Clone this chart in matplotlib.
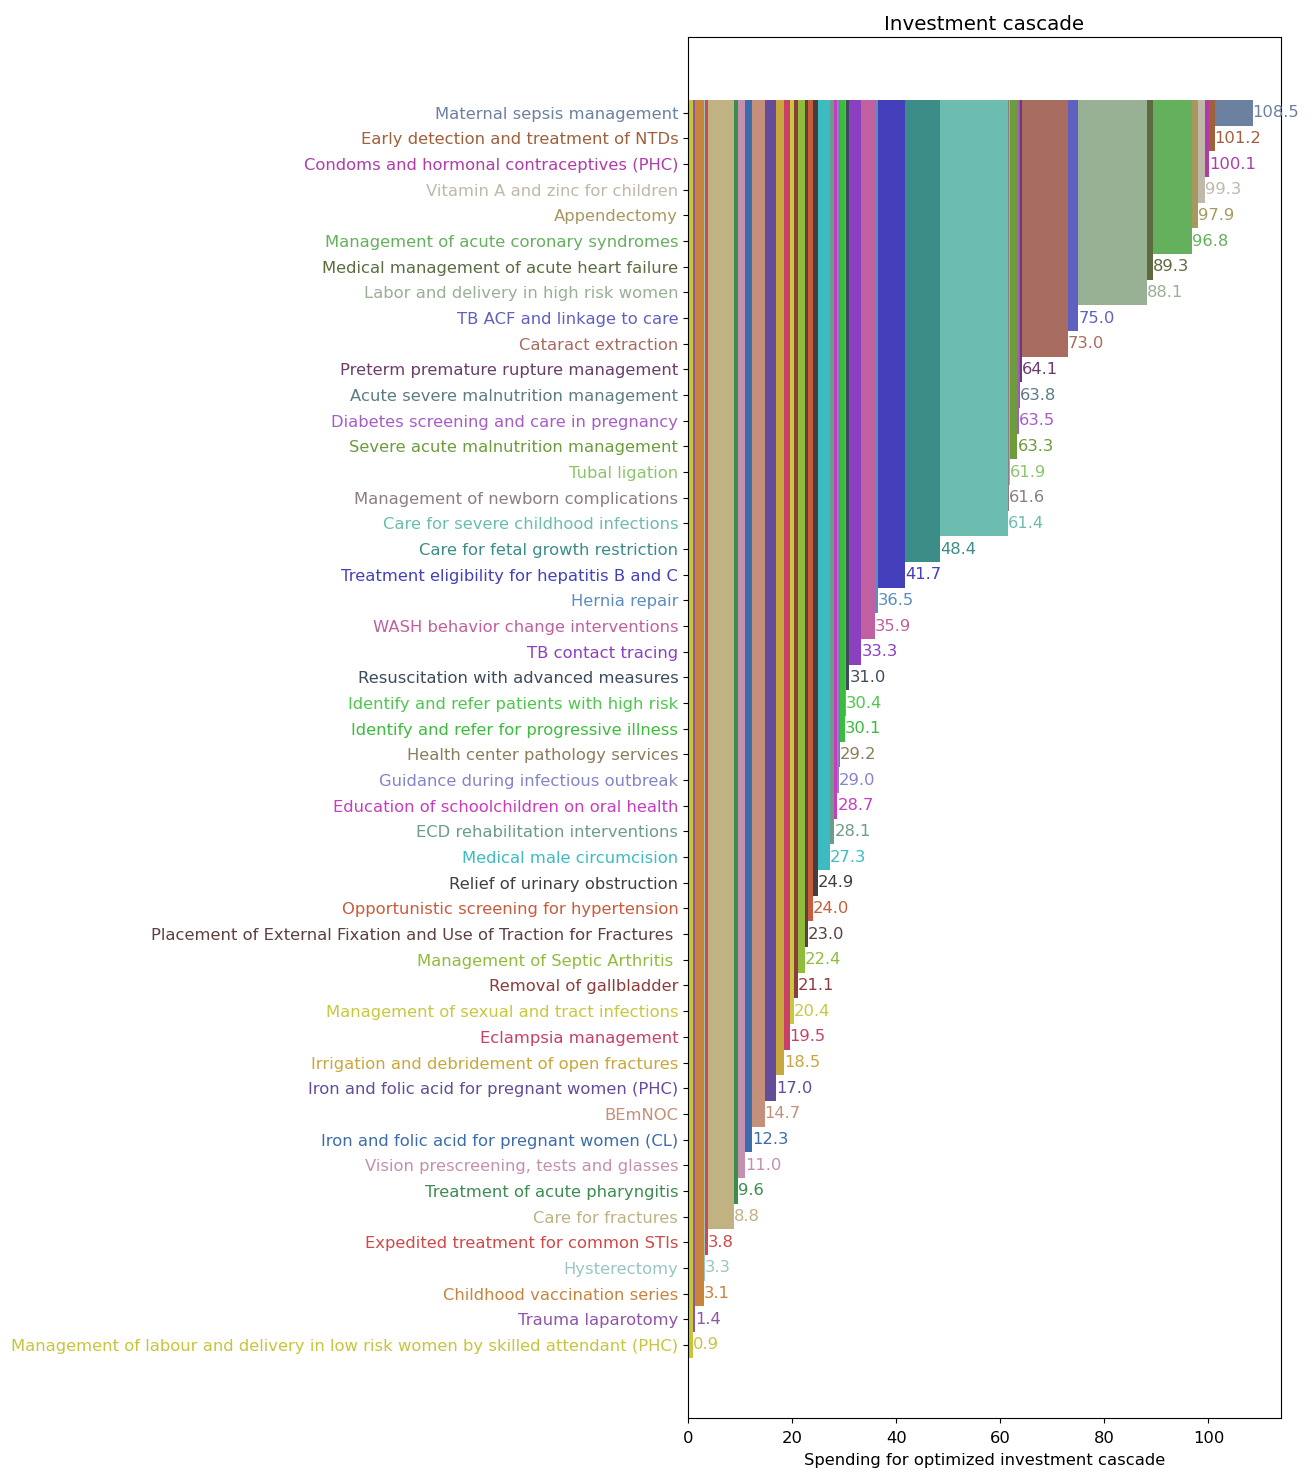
import numpy as np
import matplotlib
matplotlib.use('Agg')
import matplotlib.pyplot as plt

# interventions, bottom of the cascade first
names = [
    'Management of labour and delivery in low risk women by skilled attendant (PHC)',
    'Trauma laparotomy',
    'Childhood vaccination series',
    'Hysterectomy',
    'Expedited treatment for common STIs',
    'Care for fractures',
    'Treatment of acute pharyngitis',
    'Vision prescreening, tests and glasses',
    'Iron and folic acid for pregnant women (CL)',
    'BEmNOC',
    'Iron and folic acid for pregnant women (PHC)',
    'Irrigation and debridement of open fractures',
    'Eclampsia management',
    'Management of sexual and tract infections',
    'Removal of gallbladder',
    'Management of Septic Arthritis ',
    'Placement of External Fixation and Use of Traction for Fractures ',
    'Opportunistic screening for hypertension',
    'Relief of urinary obstruction',
    'Medical male circumcision',
    'ECD rehabilitation interventions',
    'Education of schoolchildren on oral health',
    'Guidance during infectious outbreak',
    'Health center pathology services',
    'Identify and refer for progressive illness',
    'Identify and refer patients with high risk',
    'Resuscitation with advanced measures',
    'TB contact tracing',
    'WASH behavior change interventions',
    'Hernia repair',
    'Treatment eligibility for hepatitis B and C',
    'Care for fetal growth restriction',
    'Care for severe childhood infections',
    'Management of newborn complications',
    'Tubal ligation',
    'Severe acute malnutrition management',
    'Diabetes screening and care in pregnancy',
    'Acute severe malnutrition management',
    'Preterm premature rupture management',
    'Cataract extraction',
    'TB ACF and linkage to care',
    'Labor and delivery in high risk women',
    'Medical management of acute heart failure',
    'Management of acute coronary syndromes',
    'Appendectomy',
    'Vitamin A and zinc for children',
    'Condoms and hormonal contraceptives (PHC)',
    'Early detection and treatment of NTDs',
    'Maternal sepsis management',
]

# cumulative spending at each step of the cascade
cumulative = [
    0.9, 1.4, 3.1, 3.3, 3.8, 8.8, 9.6, 11.0, 12.3, 14.7,
    17.0, 18.5, 19.5, 20.4, 21.1, 22.4, 23.0, 24.0, 24.9, 27.3,
    28.1, 28.7, 29.0, 29.2, 30.1, 30.4, 31.0, 33.3, 35.9, 36.5,
    41.7, 48.4, 61.4, 61.6, 61.9, 63.3, 63.5, 63.8, 64.1, 73.0,
    75.0, 88.1, 89.3, 96.8, 97.9, 99.3, 100.1, 101.2, 108.5,
]

colors = [
    '#c8c43c', '#8e55a8', '#c8843c', '#9cc4c4', '#d04848',
    '#c0b283', '#3c8c50', '#c490b0', '#3c6cac', '#c4907c',
    '#644c98', '#c8a83c', '#c84068', '#c8c840', '#8c3c3c',
    '#90bc3c', '#5c4040', '#c85c3c', '#404040', '#3cbcc0',
    '#6c9c8c', '#c83cc0', '#8484c8', '#8c7c5c', '#3cbc3c',
    '#4cc84c', '#3c4c5c', '#8c40c0', '#c060a0', '#5c8cc0',
    '#4440bc', '#3c8c88', '#6cbcb0', '#8c7c84', '#8cc46c',
    '#6c9c3c', '#a85cc8', '#5c7c84', '#6c3c6c', '#a86c60',
    '#6060c0', '#98b094', '#5c6c40', '#64b05c', '#a89860',
    '#c0b8a8', '#b03ca8', '#a0603c', '#6c80a0',
]

cum = np.array(cumulative)
starts = np.concatenate([[0], cum[:-1]])
n = len(names)
y = np.arange(n)

fig = plt.figure(figsize=(13.13, 14.79), dpi=100)
ax = fig.add_axes([0.524, 0.0412, 0.4516, 0.934])

for i in range(n):
    # each row is the full stack up to this intervention
    for j in range(i + 1):
        ax.barh(y[i], cum[j] - starts[j], left=starts[j], height=1.0,
                color=colors[j], linewidth=0)
    ax.text(cum[i], y[i], '%.1f' % cum[i], color=colors[i],
            ha='left', va='center', fontsize=11.8)

ax.set_yticks(y)
ax.set_yticklabels(names, fontsize=11.8)
for lab, c in zip(ax.get_yticklabels(), colors):
    lab.set_color(c)

ax.set_xlim(0, cum[-1] * 1.05)
ax.set_ylim(-2.85, n - 1 + 2.96)
ax.set_xticks([0, 20, 40, 60, 80, 100])
ax.tick_params(axis='x', labelsize=11.8, pad=6)
ax.set_title('Investment cascade', fontsize=14.3, pad=5)
ax.set_xlabel('Spending for optimized investment cascade', fontsize=11.8, labelpad=5)

fig.savefig('out.png', dpi=100)
